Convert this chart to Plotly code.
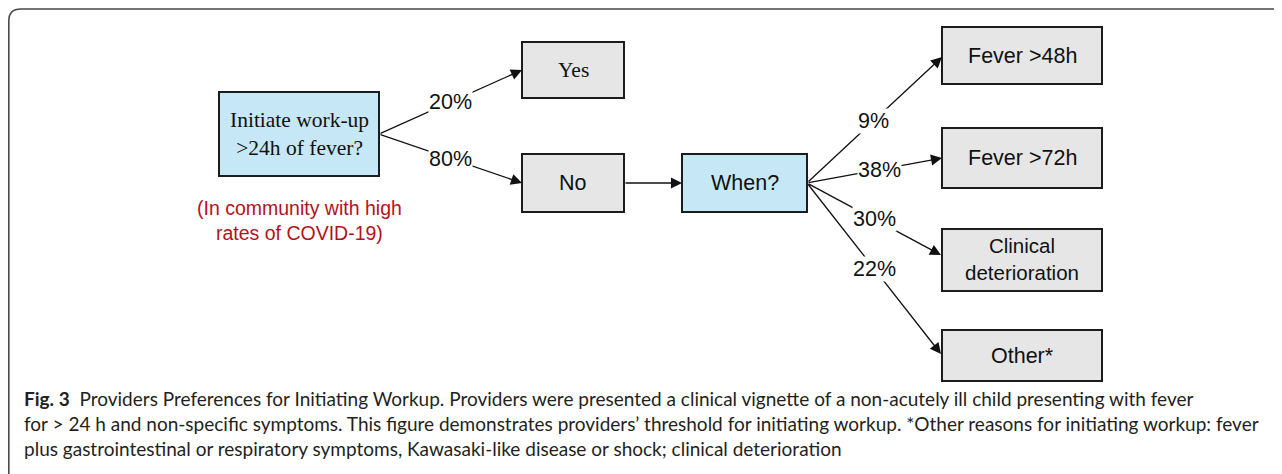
import plotly.graph_objects as go

# ---------------- data ----------------
node_names = ["start", "yes", "no", "when", "f48", "f72", "clin", "other"]
node_labels = [
    "Initiate work-up<br>>24h of fever?",
    "Yes",
    "No",
    "When?",
    "Fever >48h",
    "Fever >72h",
    "Clinical<br>deterioration",
    "Other*",
]
edge_from = ["start", "start", "no", "when", "when", "when", "when"]
edge_to = ["yes", "no", "when", "f48", "f72", "clin", "other"]
edge_pct = ["20%", "80%", "", "9%", "38%", "30%", "22%"]
note_text = "(In community with high<br>rates of COVID-19)"
caption_lines = [
    "<b>Fig. 3</b>  Providers Preferences for Initiating Workup. Providers were presented "
    "a clinical vignette of a non-acutely ill child presenting with fever",
    "for > 24 h and non-specific symptoms. This figure demonstrates providers\u2019 threshold "
    "for initiating workup. *Other reasons for initiating workup: fever",
    "plus gastrointestinal or respiratory symptoms, Kawasaki-like disease or shock; "
    "clinical deterioration",
]

# ---------------- layout (page-pixel boxes: x0, x1, y0, y1) ----------------
W, H = 1282, 474
OFF = 8  # page body margin
boxes = {
    "start": (219, 379, 92, 176),
    "yes": (522, 624, 42, 98),
    "no": (522, 624, 154, 212),
    "when": (682, 807, 154, 212),
    "f48": (942, 1102, 27, 84),
    "f72": (942, 1102, 128, 188),
    "clin": (942, 1102, 229, 291),
    "other": (942, 1102, 330, 381),
}
blue_nodes = {"start", "when"}
serif_nodes = {"start", "yes"}
label_frac = {"20%": 0.50, "80%": 0.50, "9%": 0.49, "38%": 0.54, "30%": 0.50, "22%": 0.50}
tips = {"yes": (522, 70), "no": (522, 183), "when": (682, 183), "f48": (942, 57),
        "f72": (942, 158), "clin": (941, 255), "other": (941, 354)}
tails = {"start": (379, 134), "no": (624, 183), "when": (807, 183)}

fig = go.Figure()
fig.add_trace(go.Scatter(x=[OFF, W], y=[OFF, H], mode="markers", marker=dict(opacity=0),
                         hoverinfo="skip", showlegend=False))

shapes = []
annotations = []

# frame
shapes.append(dict(type="path", xref="x", yref="y",
                   path=f"M 8.8,{H} L 8.8,21 Q 8.8,9 20.8,9 L {W},9",
                   line=dict(color="#4a4a4a", width=1.6)))

for name, label in zip(node_names, node_labels):
    x0, x1, y0, y1 = boxes[name]
    fill = "#c6e7f6" if name in blue_nodes else "#e6e6e6"
    shapes.append(dict(type="rect", xref="x", yref="y", x0=x0, x1=x1, y0=y0, y1=y1,
                       fillcolor=fill, line=dict(color="#1c1c1c", width=2), layer="below"))
    cx, cy = (x0 + x1) / 2, (y0 + y1) / 2
    fam = "Liberation Serif" if name in serif_nodes else "Liberation Sans"
    size = 20.5 if name == "clin" else 21.5
    annotations.append(dict(x=cx, y=cy + (-1 if name == "clin" else 0), xref="x", yref="y",
                            text=label, showarrow=False,
                            font=dict(family=fam, size=size, color="#111111"),
                            xanchor="center", yanchor="middle"))

for a, b, pct in zip(edge_from, edge_to, edge_pct):
    sx, sy = tails[a]
    tx, ty = tips[b]
    annotations.append(dict(x=tx, y=ty, ax=sx, ay=sy, xref="x", yref="y", axref="x", ayref="y",
                            text="", showarrow=True, arrowhead=2, arrowsize=1.7,
                            arrowwidth=1.3, arrowcolor="#111111", standoff=0, startstandoff=0))
    if pct:
        f = label_frac[pct]
        lx = sx + (tx - sx) * f
        ly = sy + (ty - sy) * f
        annotations.append(dict(x=lx, y=ly, xref="x", yref="y", text=pct, showarrow=False,
                                font=dict(family="Liberation Sans", size=21.5, color="#111111"),
                                bgcolor="white", borderpad=0, xanchor="center", yanchor="middle"))

annotations.append(dict(x=299, y=220, xref="x", yref="y", text=note_text, showarrow=False,
                        font=dict(family="Liberation Sans", size=19.5, color="#b3121b"),
                        xanchor="center", yanchor="middle"))

cap_font = dict(family="Lato", size=19, color="#231f20")
for i, t in enumerate(caption_lines):
    annotations.append(dict(x=22, y=398 + i * 25, xref="x", yref="y", text=t, showarrow=False,
                            font=cap_font, xanchor="left", yanchor="middle"))

fig.update_layout(
    width=W - OFF, height=H - OFF, autosize=False,
    margin=dict(l=0, r=0, t=0, b=0),
    paper_bgcolor="white", plot_bgcolor="white",
    xaxis=dict(range=[OFF, W], visible=False, fixedrange=True),
    yaxis=dict(range=[H, OFF], visible=False, fixedrange=True),
    shapes=shapes, annotations=annotations, showlegend=False,
)

fig.write_html("out.html", config={"displayModeBar": False})
